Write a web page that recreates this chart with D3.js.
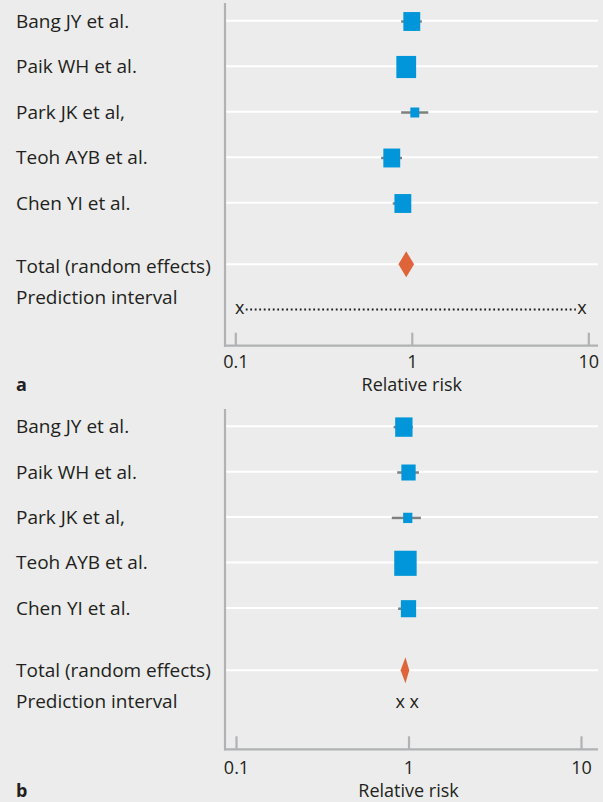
<!DOCTYPE html>
<html>
<head>
<meta charset="utf-8">
<script src="https://cdn.jsdelivr.net/npm/d3@7"></script>
<style>
  html, body { margin: 0; padding: 0; background: #ebeceb; }
  svg { display: block; }
  text { font-family: "Open Sans", "Noto Sans", sans-serif; fill: #231f20; }
</style>
</head>
<body>
<svg id="chart" width="603" height="802"></svg>
<script>
// Study names (same in both panels)
const studyLabels = ["Bang JY et al.", "Paik WH et al.", "Park JK et al,", "Teoh AYB et al.", "Chen YI et al."];
const totalLabel = "Total (random effects)";
const predLabel = "Prediction interval";

// Panel a: relative risk, 95% CI and weight (%) per study
const rrA     = [1.00, 0.93, 1.04, 0.77, 0.89];
const loA     = [0.87, 0.85, 0.87, 0.67, 0.78];
const hiA     = [1.14, 1.02, 1.24, 0.88, 0.98];
const weightA = [21.5, 29.5, 6.0, 21.5, 21.5];
const totalA  = [0.93, 0.84, 1.03];   // estimate, lower, upper
const predA   = [0.106, 9.2];         // prediction interval

// Panel b
const rrB     = [0.94, 1.00, 0.99, 0.96, 1.00];
const loB     = [0.82, 0.86, 0.80, 0.88, 0.87];
const hiB     = [1.06, 1.15, 1.18, 1.04, 1.06];
const weightB = [22.7, 15.4, 6.4, 38.0, 17.6];
const totalB  = [0.96, 0.90, 1.01];
const predB   = [0.895, 1.08];

// Axis
const tickValues = [0.1, 1, 10];
const tickLabels = ["0.1", "1", "10"];
const axisTitle = "Relative risk";

const panels = [
  { letter: "a", rr: rrA, lo: loA, hi: hiA, w: weightA, total: totalA, pred: predA,
    xRange: [235.3, 588.3], rowY0: 20.7, step: 45.5, totalY: 264.3, totalTextY: 272.5,
    predTextY: 304, predMarkY: 309.5,
    axisY: 345.7, axisTop: 3, tickPad: 9.5, titleY: 391 },
  { letter: "b", rr: rrB, lo: loB, hi: hiB, w: weightB, total: totalB, pred: predB,
    xRange: [236, 581], rowY0: 426.3, step: 45.4, totalY: 670.3, totalTextY: 677,
    predTextY: 708.3, predMarkY: 703.5,
    axisY: 749.3, axisTop: 409, tickPad: 11.5, titleY: 797 }
];

const COL = {
  bg: "#ebeceb", grid: "#ffffff", axis: "#b1b2b4", ci: "#7f8080",
  square: "#0096d9", diamond: "#e0643a", text: "#231f20"
};
const FS = 18;        // axis text
const FS_ROW = 19;    // row labels
const FONT = "'Open Sans', 'Noto Sans', sans-serif";
const labelX = 16;
const axisX = 225;
const axisRight = 598;

const svg = d3.select("#chart");
svg.append("rect").attr("width", 603).attr("height", 802).attr("fill", COL.bg);

// square side grows with the square root of the study weight
const side = d3.scaleSqrt().domain([0, 40]).range([0, 23]);

panels.forEach(p => {
  const g = svg.append("g");
  const x = d3.scaleLog().domain([0.1, 10]).range(p.xRange);
  const rowY = i => p.rowY0 + i * p.step;
  const rows = d3.range(studyLabels.length);

  // white guide lines behind each study row and the pooled row
  const lineYs = rows.map(rowY).concat([p.totalY]);
  g.selectAll("line.grid").data(lineYs).join("line")
    .attr("class", "grid")
    .attr("x1", axisX + 1).attr("x2", axisRight)
    .attr("y1", d => d).attr("y2", d => d)
    .attr("stroke", COL.grid).attr("stroke-width", 2);

  // row labels
  g.selectAll("text.study").data(studyLabels).join("text")
    .attr("class", "study")
    .attr("x", labelX).attr("y", (d, i) => rowY(i) + 6.8)
    .attr("font-size", FS_ROW).text(d => d);
  g.append("text").attr("x", labelX).attr("y", p.totalTextY).attr("font-size", FS_ROW).text(totalLabel);
  g.append("text").attr("x", labelX).attr("y", p.predTextY).attr("font-size", FS_ROW).text(predLabel);

  // confidence intervals
  g.selectAll("line.ci").data(rows).join("line")
    .attr("class", "ci")
    .attr("x1", i => x(p.lo[i])).attr("x2", i => x(p.hi[i]))
    .attr("y1", i => rowY(i) + 0.8).attr("y2", i => rowY(i) + 0.8)
    .attr("stroke", COL.ci).attr("stroke-width", 2.5);

  // weighted squares
  g.selectAll("rect.sq").data(rows).join("rect")
    .attr("class", "sq")
    .attr("x", i => x(p.rr[i]) - side(p.w[i]) / 2)
    .attr("y", i => rowY(i) + 0.8 - side(p.w[i]) * 1.12 / 2)
    .attr("width", i => side(p.w[i]))
    .attr("height", i => side(p.w[i]) * 1.12)
    .attr("fill", COL.square);

  // pooled estimate diamond
  const [te, tl, tu] = p.total;
  const dh = 13;
  g.append("path")
    .attr("d", d3.line()([[x(tl), p.totalY], [x(te), p.totalY - dh], [x(tu), p.totalY], [x(te), p.totalY + dh]]) + "Z")
    .attr("fill", COL.diamond);

  // prediction interval: dotted line between two x marks
  const [pl, pu] = p.pred;
  const xl = x(pl), xu = x(pu);
  if (xu - xl > 20) {
    g.append("line")
      .attr("x1", xl + 6).attr("x2", xu - 6)
      .attr("y1", p.predMarkY).attr("y2", p.predMarkY)
      .attr("stroke", "#1e1e1e").attr("stroke-width", 2)
      .attr("stroke-dasharray", "1.8,2.7");
  }
  g.selectAll("text.pm").data([xl, xu]).join("text")
    .attr("class", "pm")
    .attr("x", d => d).attr("y", p.predMarkY + 4.8)
    .attr("text-anchor", "middle").attr("font-size", FS).text("x");

  // left vertical rule
  g.append("line")
    .attr("x1", axisX).attr("x2", axisX)
    .attr("y1", p.axisTop).attr("y2", p.axisY + 1)
    .attr("stroke", COL.axis).attr("stroke-width", 2.2);

  // bottom log axis with upward ticks
  const axis = d3.axisBottom(x)
    .tickValues(tickValues)
    .tickFormat((d, i) => tickLabels[i])
    .tickSizeInner(-13).tickSizeOuter(0).tickPadding(p.tickPad);
  const ag = g.append("g").attr("transform", `translate(0,${p.axisY})`).call(axis);
  ag.select(".domain").remove();
  ag.selectAll(".tick line").attr("stroke", COL.axis).attr("stroke-width", 2.2);
  ag.selectAll(".tick text")
    .attr("font-size", FS).attr("font-family", FONT)
    .attr("fill", COL.text);
  g.append("line")
    .attr("x1", axisX - 1).attr("x2", axisRight)
    .attr("y1", p.axisY).attr("y2", p.axisY)
    .attr("stroke", COL.axis).attr("stroke-width", 2.2);

  // axis title and panel letter
  g.append("text")
    .attr("x", x(1)).attr("y", p.titleY)
    .attr("text-anchor", "middle").attr("font-size", FS).text(axisTitle);
  g.append("text")
    .attr("x", labelX).attr("y", p.titleY)
    .attr("font-size", FS).attr("font-weight", "bold").text(p.letter);
});
</script>
</body>
</html>
